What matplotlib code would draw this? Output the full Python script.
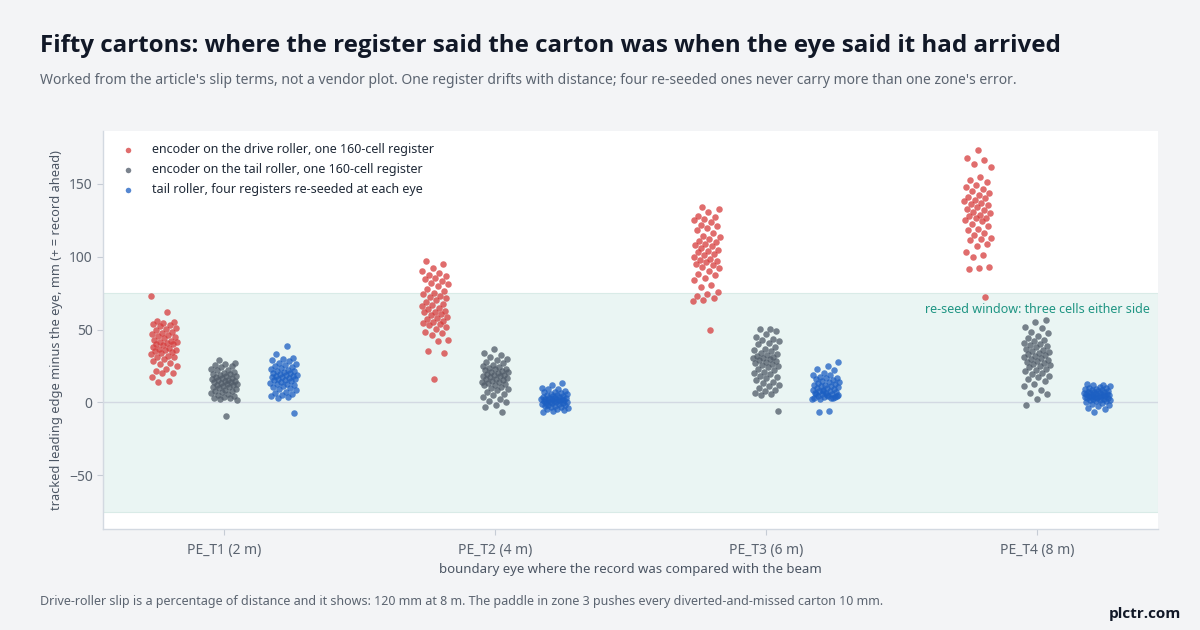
import numpy as np
import matplotlib
matplotlib.use("Agg")
import matplotlib.pyplot as plt

plt.rcParams['font.family'] = ['Noto Sans', 'DejaVu Sans']

# ---- data (mm, tracked leading edge minus the eye) ----
eyes = ['PE_T1 (2 m)', 'PE_T2 (4 m)', 'PE_T3 (6 m)', 'PE_T4 (8 m)']
series_labels = [
    'encoder on the drive roller, one 160-cell register',
    'encoder on the tail roller, one 160-cell register',
    'tail roller, four registers re-seeded at each eye',
]

drive_t1 = [73.0, 62.4, 56.1, 55.3, 54.8, 54.0, 53.2, 52.4, 51.1, 50.6, 49.4, 48.3, 47.9, 47.2, 46.1,
            45.3, 44.6, 44.0, 43.1, 42.2, 41.7, 41.4, 40.9, 40.4, 39.8, 39.1, 38.2, 37.0, 36.6, 36.2,
            35.9, 35.4, 34.8, 34.1, 33.2, 32.0, 31.4, 30.9, 30.1, 28.4, 27.3, 26.4, 24.8, 23.0, 21.2,
            20.4, 19.9, 17.4, 14.9, 14.2]
tail_t1 = [29.3, 27.2, 26.4, 25.8, 25.1, 24.0, 23.2, 22.4, 21.9, 21.1, 20.4, 19.8, 19.3, 18.7, 18.2,
           17.9, 17.3, 16.8, 16.4, 16.0, 15.7, 15.3, 14.9, 14.6, 14.1, 13.8, 13.2, 12.9, 12.4, 12.1,
           11.7, 11.2, 10.8, 10.3, 9.9, 9.2, 8.8, 8.1, 7.6, 6.9, 6.2, 5.8, 5.1, 4.4, 3.9, 3.3, 2.9,
           2.2, 1.4, -9.2]
reseed_t1 = [39.0, 33.5, 30.8, 29.7, 29.0, 28.1, 27.2, 26.3, 25.4, 24.9, 24.2, 23.4, 22.8, 22.2, 21.7,
             21.2, 20.6, 20.3, 19.9, 19.5, 19.1, 18.7, 18.3, 17.9, 17.6, 17.2, 16.8, 16.3, 15.9, 15.5,
             15.1, 14.6, 14.0, 13.4, 12.9, 12.3, 11.8, 11.0, 10.5, 9.9, 9.1, 8.3, 7.4, 6.4, 5.9, 5.2,
             4.3, 3.8, 3.2, -7.0]

drive_t2 = [97.0, 94.8, 92.0, 90.2, 88.9, 87.6, 86.8, 85.7, 84.6, 83.5, 82.0, 81.2, 79.8, 78.1, 76.4,
            74.9, 74.1, 73.0, 72.4, 71.8, 70.2, 69.1, 67.9, 67.2, 66.0, 65.1, 63.9, 63.0, 62.3, 61.8,
            61.0, 60.1, 58.7, 58.0, 57.1, 56.2, 55.4, 54.8, 54.0, 53.1, 51.9, 50.3, 48.2, 47.7, 46.0,
            43.1, 41.9, 35.0, 34.0, 16.3]
tail_t2 = [36.9, 34.1, 32.3, 31.2, 30.1, 28.9, 27.8, 26.9, 26.0, 25.1, 24.3, 23.8, 23.2, 22.7, 22.1,
           21.6, 21.0, 20.6, 20.2, 19.7, 19.1, 18.8, 18.2, 17.8, 17.4, 16.9, 16.3, 15.9, 15.2, 14.8,
           14.3, 13.7, 13.2, 12.6, 12.1, 11.6, 10.8, 9.9, 9.1, 8.2, 7.1, 5.9, 5.0, 3.8, 2.1, 0.9,
           0.2, -1.6, -3.1, -6.5]
reseed_t2 = [13.5, 11.8, 10.2, 9.5, 8.9, 8.1, 7.4, 6.9, 6.3, 5.9, 5.5, 5.1, 4.8, 4.5, 4.2, 3.9, 3.6,
             3.3, 3.1, 2.9, 2.6, 2.4, 2.2, 2.0, 1.8, 1.5, 1.3, 1.1, 0.9, 0.7, 0.5, 0.3, 0.1, -0.2,
             -0.4, -0.7, -0.9, -1.2, -1.5, -1.8, -2.2, -2.6, -3.0, -3.4, -3.9, -4.3, -4.8, -5.3,
             -5.9, -6.5]

drive_t3 = [133.9, 133.0, 130.8, 127.9, 127.2, 126.0, 125.1, 123.9, 122.0, 121.2, 119.5, 118.3, 116.0,
            114.1, 113.4, 112.2, 111.0, 110.3, 109.1, 108.0, 107.2, 106.1, 104.9, 104.1, 103.0, 102.2,
            101.0, 100.1, 98.8, 98.0, 97.1, 96.2, 95.3, 94.1, 93.0, 92.1, 90.2, 88.3, 87.3, 85.1, 83.9,
            80.9, 79.1, 75.9, 74.2, 72.9, 71.8, 70.1, 69.5, 49.5]
tail_t3 = [50.7, 50.1, 48.8, 46.9, 45.2, 43.8, 43.0, 42.1, 40.9, 39.8, 37.7, 36.9, 36.0, 35.1, 34.2,
           33.4, 32.8, 32.1, 31.3, 30.8, 30.2, 29.7, 29.1, 28.6, 27.8, 27.3, 26.5, 25.6, 24.8, 24.0,
           23.1, 22.2, 21.0, 20.1, 19.2, 18.1, 17.2, 16.4, 15.3, 14.1, 13.0, 12.1, 11.0, 9.6, 8.8,
           7.6, 6.4, 5.5, 4.8, -6.0]
reseed_t3 = [27.8, 24.8, 23.1, 22.0, 20.2, 19.1, 18.6, 17.6, 17.0, 16.4, 15.8, 15.2, 14.7, 14.2, 13.8,
             13.3, 12.8, 12.2, 11.7, 11.3, 10.9, 10.4, 10.0, 9.6, 9.2, 8.8, 8.3, 7.9, 7.5, 7.1, 6.7,
             6.3, 5.9, 5.5, 4.9, 4.6, 4.2, 3.9, 3.5, 3.1, 2.8, 2.1, 4.4, 5.2, 6.0, 3.0, 7.8, 2.5,
             -6.2, -6.8]

drive_t4 = [173.3, 168.0, 166.2, 164.0, 161.4, 154.5, 152.9, 151.5, 149.1, 148.0, 146.3, 145.0, 143.5,
            142.2, 141.3, 140.1, 139.0, 138.1, 137.0, 136.2, 135.3, 134.4, 133.0, 132.1, 131.0, 130.2,
            128.7, 128.0, 126.8, 126.3, 125.1, 124.5, 122.3, 121.0, 119.2, 118.3, 116.1, 114.8, 113.2,
            111.9, 111.4, 109.0, 107.3, 103.4, 101.2, 99.9, 93.1, 92.3, 91.9, 72.4]
tail_t4 = [56.4, 54.9, 51.8, 50.9, 48.4, 47.6, 45.8, 44.1, 42.6, 41.9, 40.8, 39.9, 39.2, 38.4, 37.7,
           36.9, 36.1, 35.3, 34.6, 34.0, 33.3, 32.7, 32.0, 31.2, 30.7, 29.9, 29.2, 28.6, 27.7, 27.1,
           26.4, 25.8, 24.9, 24.1, 23.1, 22.2, 21.3, 20.1, 19.7, 18.3, 17.1, 16.3, 14.9, 12.8, 10.9,
           8.7, 6.1, 5.5, 2.0, -2.0]
reseed_t4 = [12.8, 12.1, 11.6, 11.1, 10.6, 10.1, 9.7, 9.4, 9.0, 8.6, 8.3, 8.0, 7.7, 7.4, 7.1, 6.9,
             6.6, 6.3, 6.1, 5.9, 5.6, 5.4, 5.2, 5.0, 4.8, 4.6, 4.4, 4.2, 4.0, 3.8, 3.6, 3.4, 3.1, 2.9,
             2.7, 2.5, 2.2, 1.9, 1.6, 1.3, 1.0, 0.6, 0.2, -0.4, -0.9, -1.6, -2.5, -3.6, -4.4, -6.7]

drive = [drive_t1, drive_t2, drive_t3, drive_t4]
tail = [tail_t1, tail_t2, tail_t3, tail_t4]
reseed = [reseed_t1, reseed_t2, reseed_t3, reseed_t4]

window_lo, window_hi = -75, 75

# ---- style ----
BG = '#f3f4f6'
colors = ['#d63c3c', '#4f5a67', '#1c5fc2']
offsets = [-0.22, 0.0, 0.22]
BOLD = ['Open Sans', 'DejaVu Sans']

fig = plt.figure(figsize=(12, 6.3), dpi=100, facecolor=BG)
ax = fig.add_axes([0.0858, 0.1603, 0.8792, 0.632])
ax.set_facecolor('white')

ax.axhspan(window_lo, window_hi, facecolor='#eaf5f3', edgecolor='#d9ebe7', linewidth=0.8, zorder=0)
ax.axhline(0, color='#d3d9e2', linewidth=1.0, zorder=1)

for s, (groups, color, off, lab) in enumerate(zip([drive, tail, reseed], colors, offsets, series_labels)):
    for g, vals in enumerate(groups):
        n = len(vals)
        # deterministic spread across the strip
        frac = (np.arange(n) * 0.6180339887 + 0.31 * s + 0.17 * g) % 1.0
        xs = g + off + (frac - 0.5) * 0.1
        ax.scatter(xs, vals, s=22, color=color, alpha=0.75, linewidths=0,
                   zorder=3, label=lab if g == 0 else None)

ax.text(3.415, 64, 're-seed window: three cells either side', color='#1f9583',
        fontsize=9.0, ha='right', va='center', zorder=4)

ax.set_xlim(-0.446, 3.446)
ax.set_ylim(-87, 186.5)
ax.set_xticks(range(len(eyes)))
ax.set_xticklabels(eyes)
ax.set_yticks([-50, 0, 50, 100, 150])
ax.set_yticklabels(['\u221250', '0', '50', '100', '150'])
ax.tick_params(axis='both', colors='#c6ccd5', labelcolor='#5b6470', labelsize=10, length=4, width=0.8)
ax.tick_params(axis='x', pad=6)

for side in ['top', 'right']:
    ax.spines[side].set_visible(False)
for side in ['left', 'bottom']:
    ax.spines[side].set_color('#d3d9e1')
    ax.spines[side].set_linewidth(1.0)

ax.set_xlabel('boundary eye where the record was compared with the beam', fontsize=9.5,
              color='#4b5563', labelpad=4)
ax.set_ylabel('tracked leading edge minus the eye, mm (+ = record ahead)', fontsize=9.2,
              color='#4b5563', labelpad=4)

leg = ax.legend(loc='upper left', frameon=False, fontsize=9, markerscale=0.85,
                handletextpad=0.9, borderaxespad=0.6, labelspacing=0.55, scatterpoints=1)
for t in leg.get_texts():
    t.set_color('#1f2937')

fig.text(0.0333, 0.927, 'Fifty cartons: where the register said the carton was when the eye said it had arrived',
         fontsize=17.4, fontweight='bold', family=BOLD, color='#111827', ha='left', va='center')
fig.text(0.0333, 0.873, "Worked from the article's slip terms, not a vendor plot. One register drifts with distance; "
         "four re-seeded ones never carry more than one zone's error.",
         fontsize=10.05, color='#5b6470', ha='left', va='center')
fig.text(0.0333, 0.046, 'Drive-roller slip is a percentage of distance and it shows: 120 mm at 8 m. '
         'The paddle in zone 3 pushes every diverted-and-missed carton 10 mm.',
         fontsize=9, color='#5b6470', ha='left', va='center')
fig.text(0.984, 0.025, 'plctr.com', fontsize=11, fontweight='bold', family=BOLD, color='#111827',
         ha='right', va='center')

fig.savefig('out.png', dpi=100, facecolor=BG)
